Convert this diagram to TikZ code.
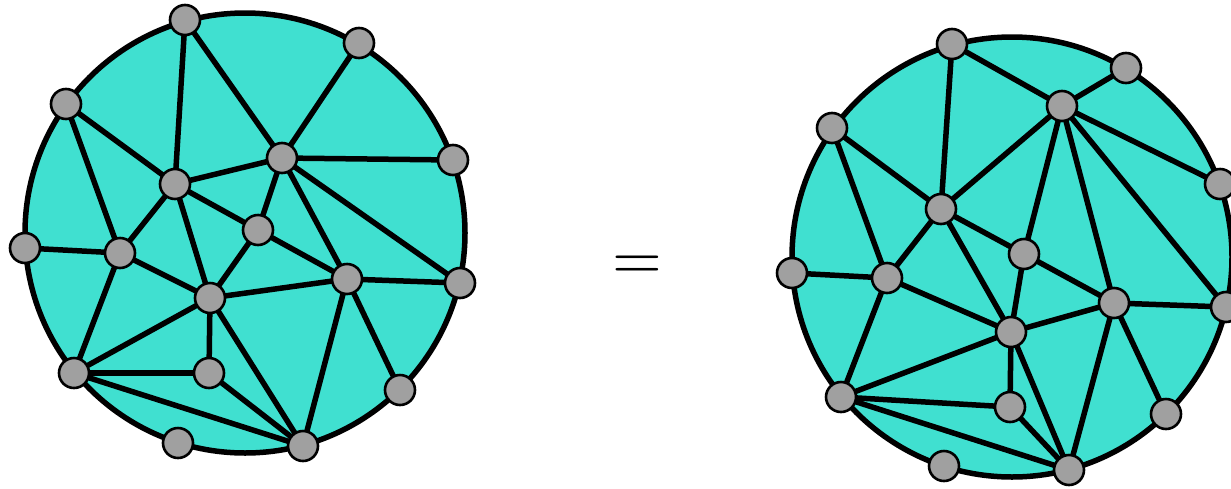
\documentclass[tikz,border=0pt]{standalone}
\begin{document}
\begin{tikzpicture}[x=1pt,y=-1pt,
  disk/.style={draw=black,line width=5.5pt,fill=turq},
  edge/.style={draw=black,line width=5.5pt},
  vtx/.style={circle,draw=black,line width=2.6pt,fill=vgray,minimum size=30pt,inner sep=0pt}]
\definecolor{turq}{HTML}{40E0D0}
\definecolor{vgray}{HTML}{A0A0A0}
\useasboundingbox (0,0) rectangle (1231,488);
% left
\draw[disk] (245,233) circle (220);
\path (185,20) coordinate (a1) (359,43) coordinate (a2) (66,104) coordinate (a3)
 (282,158) coordinate (a4) (453,160) coordinate (a5) (175,184) coordinate (a6)
 (258,230) coordinate (a7) (25,248) coordinate (a8) (120,253) coordinate (a9)
 (347,279) coordinate (a10) (460,283) coordinate (a11) (210,298) coordinate (a12)
 (74,373) coordinate (a13) (209,373) coordinate (a14) (400,390) coordinate (a15)
 (178,443) coordinate (a16) (303,446) coordinate (a17);
\foreach \u/\v in {1/6,1/4,2/4,3/6,3/9,4/6,4/5,4/7,4/10,4/11,6/9,6/7,6/12,8/9,9/12,9/13,7/12,7/10,12/10,10/11,10/17,10/15,12/13,12/14,12/17,13/14,13/17,14/17}
  \draw[edge] (a\u) -- (a\v);
\foreach \i in {1,...,17} \node[vtx] (na\i) at (a\i) {};
% equals
\node[scale=6.4,inner sep=0pt] (eq) at (637,268) {$=$};
% right
\draw[disk] (1012,257) circle (220);
\path (952,44) coordinate (b1) (1126,68) coordinate (b2) (832,128) coordinate (b3)
 (1062,106) coordinate (b4) (1220,184) coordinate (b5) (941,209) coordinate (b6)
 (1024,254) coordinate (b7) (792,273) coordinate (b8) (887,278) coordinate (b9)
 (1114,303) coordinate (b10) (1226,307) coordinate (b11) (1011,332) coordinate (b12)
 (841,397) coordinate (b13) (1010,407) coordinate (b14) (1166,414) coordinate (b15)
 (944,466) coordinate (b16) (1069,470) coordinate (b17);
\foreach \u/\v in {1/6,1/4,2/4,3/6,3/9,4/6,4/5,4/7,4/10,4/11,6/9,6/7,6/12,8/9,9/12,9/13,7/12,7/10,12/10,10/11,10/17,10/15,12/13,12/14,12/17,13/14,13/17,14/17}
  \draw[edge] (b\u) -- (b\v);
\foreach \i in {1,...,17} \node[vtx] (nb\i) at (b\i) {};
\end{tikzpicture}
\end{document}
